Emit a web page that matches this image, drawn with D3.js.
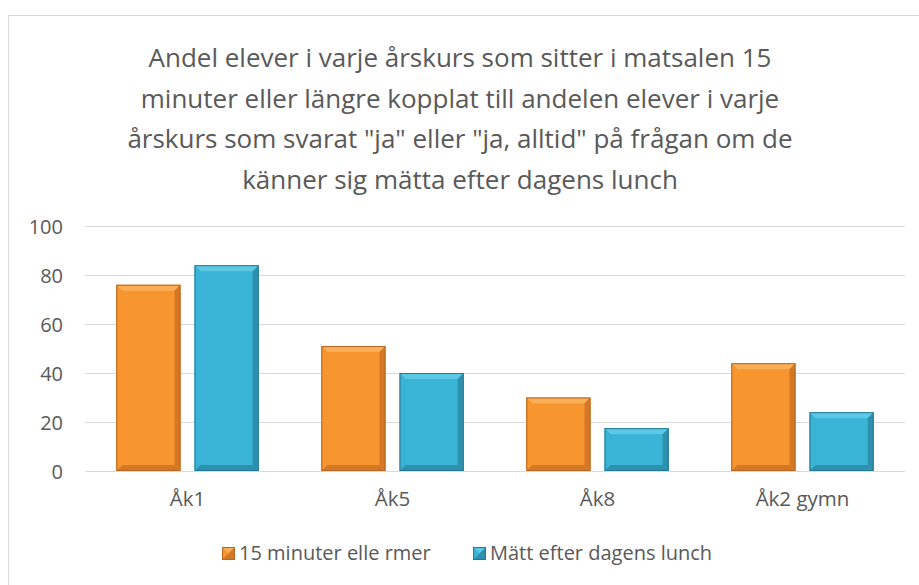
<!DOCTYPE html>
<html>
<head>
<meta charset="utf-8">
<script src="https://cdn.jsdelivr.net/npm/d3@7"></script>
<style>
  body { margin: 0; background: #fff; }
  svg text { font-family: "Open Sans", "Noto Sans", sans-serif; fill: #595959; }
</style>
</head>
<body>
<svg id="chart" width="919" height="585"></svg>
<script>
const categories = ["Åk1", "Åk5", "Åk8", "Åk2 gymn"]
const seriesNames = ["15 minuter elle rmer", "Mätt efter dagens lunch"]
const minutes15 = [76, 51, 30, 44]
const matt = [84, 40, 17.5, 24]
const yTicks = [0, 20, 40, 60, 80, 100]
const titleLines = [
    "Andel elever i varje årskurs som sitter i matsalen 15",
    "minuter eller längre kopplat till andelen elever i varje",
    "årskurs som svarat \"ja\" eller \"ja, alltid\" på frågan om de",
    "känner sig mätta efter dagens lunch"
]

const colors = [
    { main: "#F7962F", light: "#FBAE58", dark: "#D47828", edge: "#B86620" },
    { main: "#39B3D6", light: "#5BC8E5", dark: "#2E90AC", edge: "#257A93" }
]

const svg = d3.select("#chart")

// outer border
svg.append("rect")
    .attr("x", 8.5).attr("y", 15.5)
    .attr("width", 940).attr("height", 600)
    .attr("fill", "#fff")
    .attr("stroke", "#D9D9D9")

// title
svg.append("g").selectAll("text")
    .data(titleLines)
    .enter()
    .append("text")
    .attr("x", 460)
    .attr("y", (d, i) => 67 + i * 40.7)
    .attr("text-anchor", "middle")
    .style("font-size", "26px")
    .text(d => d)

const margin = { left: 85, right: 905, top: 226, bottom: 471 }

const x = d3.scaleBand()
    .domain(categories)
    .range([margin.left, margin.right])
    .paddingInner(0)
    .paddingOuter(0)

const x1 = d3.scaleBand()
    .domain([0, 1])
    .range([0, x.bandwidth()])
    .paddingInner(0.18)
    .paddingOuter(0.4)

const y = d3.scaleLinear()
    .domain([0, 100])
    .range([margin.bottom, margin.top])

// grid
svg.append("g").selectAll("line")
    .data(yTicks)
    .enter()
    .append("line")
    .attr("x1", margin.left).attr("x2", margin.right)
    .attr("y1", d => Math.round(y(d)) + 0.5)
    .attr("y2", d => Math.round(y(d)) + 0.5)
    .attr("stroke", "#D9D9D9")
    .attr("stroke-width", 1.2)

// y labels
const yAxis = d3.axisLeft(y).tickValues(yTicks).tickSize(0).tickPadding(0)
const yg = svg.append("g")
    .attr("transform", "translate(" + 63 + ",0)")
    .call(yAxis)
yg.select(".domain").remove()
yg.selectAll("text").style("font-size", "20px").attr("dy", "0.35em")

// x labels
const xAxis = d3.axisBottom(x).tickSize(0).tickPadding(0)
const xg = svg.append("g")
    .attr("transform", "translate(0," + 499 + ")")
    .call(xAxis)
xg.select(".domain").remove()
xg.selectAll("text").style("font-size", "20.5px").attr("dy", "0.35em")

// bevelled bar
const drawBar = (g, x0, y0, w, h, c) => {
    const b = Math.min(6, h / 2)
    g.append("rect")
        .attr("x", x0).attr("y", y0).attr("width", w).attr("height", h)
        .attr("fill", c.main)
    // top bevel
    g.append("polygon")
        .attr("points", [[x0, y0], [x0 + w, y0], [x0 + w - b, y0 + b], [x0 + b, y0 + b]].join(" "))
        .attr("fill", c.light)
    // left bevel
    g.append("polygon")
        .attr("points", [[x0, y0], [x0 + b, y0 + b], [x0 + b, y0 + h - b], [x0, y0 + h]].join(" "))
        .attr("fill", c.main).attr("opacity", 0.85)
    // right bevel
    g.append("polygon")
        .attr("points", [[x0 + w, y0], [x0 + w, y0 + h], [x0 + w - b, y0 + h - b], [x0 + w - b, y0 + b]].join(" "))
        .attr("fill", c.dark)
    // bottom bevel
    g.append("polygon")
        .attr("points", [[x0, y0 + h], [x0 + b, y0 + h - b], [x0 + w - b, y0 + h - b], [x0 + w, y0 + h]].join(" "))
        .attr("fill", c.dark)
    g.append("rect")
        .attr("x", x0 + 0.5).attr("y", y0 + 0.5).attr("width", w - 1).attr("height", h - 1)
        .attr("fill", "none")
        .attr("stroke", c.edge)
        .attr("stroke-width", 1)
}

const barsG = svg.append("g")
const series = [minutes15, matt]
series.forEach((vals, si) => {
    vals.forEach((v, ci) => {
        const bx = x(categories[ci]) + x1(si)
        const by = y(v)
        drawBar(barsG, bx, by, x1.bandwidth(), y(0) - by, colors[si])
    })
})

// legend
const legendItems = [
    { name: seriesNames[0], x: 222 },
    { name: seriesNames[1], x: 473 }
]
const lg = svg.append("g")
legendItems.forEach((d, i) => {
    const g = lg.append("g")
    drawBar(g, d.x, 547, 13, 13, colors[i])
    g.append("text")
        .attr("x", d.x + 17)
        .attr("y", 553)
        .attr("dy", "0.35em")
        .style("font-size", "20px")
        .text(d.name)
})
</script>
</body>
</html>
